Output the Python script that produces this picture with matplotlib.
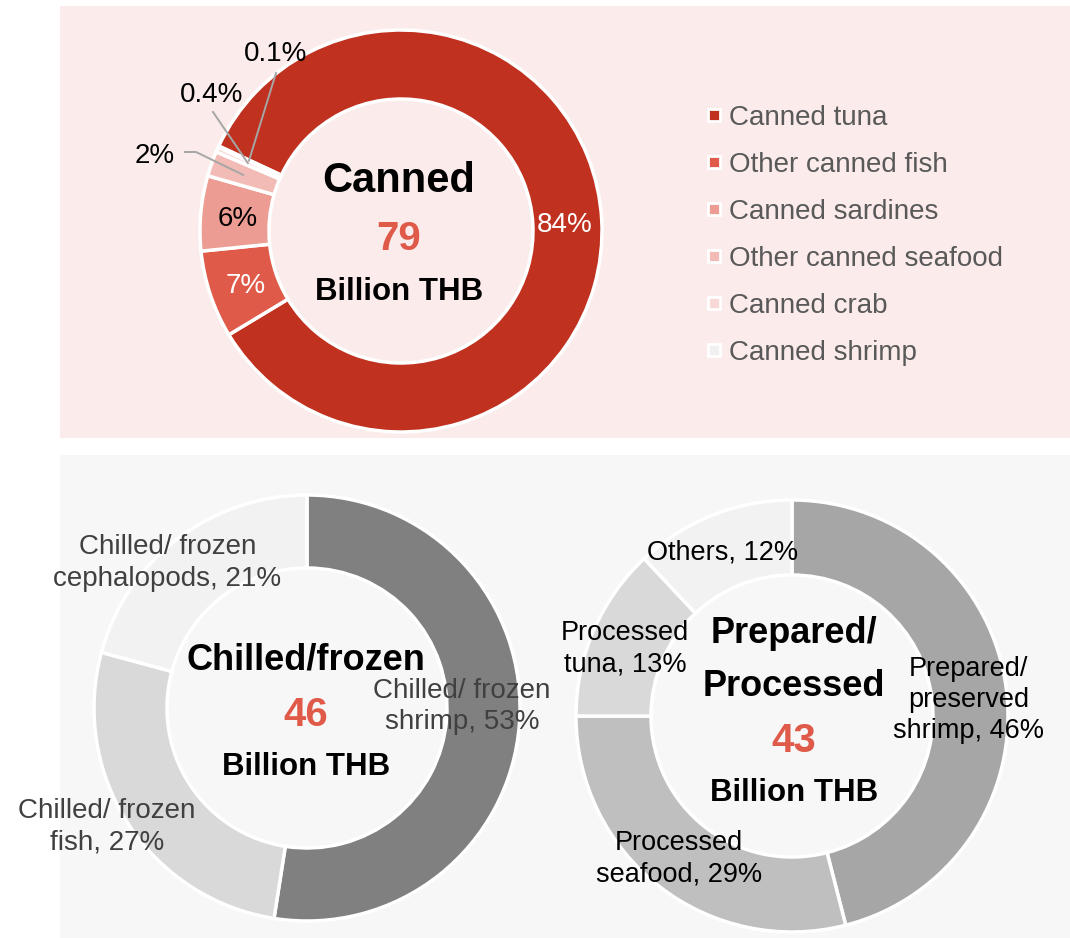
import numpy as np
import matplotlib
matplotlib.use("Agg")
import matplotlib.pyplot as plt
from matplotlib.patches import Rectangle

plt.rcParams["font.family"] = ["Liberation Sans", "DejaVu Sans"]

# ---- data ----
canned_labels = ["Canned tuna", "Other canned fish", "Canned sardines",
                 "Other canned seafood", "Canned crab", "Canned shrimp"]
canned_share = [84, 7, 6, 2, 0.4, 0.1]
canned_total = 79

chilled_labels = ["Chilled/ frozen\nshrimp", "Chilled/ frozen\nfish",
                  "Chilled/ frozen\ncephalopods"]
chilled_share = [53, 27, 21]
chilled_total = 46

prepared_labels = ["Prepared/\npreserved\nshrimp", "Processed\nseafood",
                   "Processed\ntuna", "Others"]
prepared_share = [46, 29, 13, 12]
prepared_total = 43

# ---- styling ----
W, H = 1070, 938
RED = "#E05A4A"
canned_colors = ["#C1311F", "#E05A4A", "#EC9C93", "#F3BBB5", "#F8D9D7", "#F0F0F0"]
chilled_colors = ["#808080", "#D9D9D9", "#F2F2F2"]
prepared_colors = ["#A6A6A6", "#BFBFBF", "#D9D9D9", "#F2F2F2"]
TXT_DY = 3  # visual centring of cap-height text


def Y(y):
    return H - y


def pct(v):
    return f"{v:g}%"


fig = plt.figure(figsize=(W / 100, H / 100), dpi=100)
ax = fig.add_axes([0, 0, 1, 1])
ax.axis("off")


def label(x, y, s, dy=TXT_DY, **kw):
    kw.setdefault("ha", "center")
    kw.setdefault("va", "center")
    kw.setdefault("zorder", 6)
    return ax.text(x, y - dy, s, **kw)


# panel backgrounds
ax.add_patch(Rectangle((60, Y(438)), 1010, 432, facecolor="#FBECEB",
                       edgecolor="none", zorder=0))
ax.add_patch(Rectangle((60, Y(938)), 1010, 483, facecolor="#F7F7F7",
                       edgecolor="none", zorder=0))


def donut(values, colors, cx, cy, r, width, start):
    wedges, _ = ax.pie(values, colors=colors, startangle=start,
                       counterclock=False, radius=r, center=(cx, Y(cy)),
                       wedgeprops=dict(width=width, edgecolor="white",
                                       linewidth=2.5))
    for w in wedges:
        w.set_zorder(2)
    return wedges


def polar(cx, cy, ang, rad):
    a = np.deg2rad(ang)
    return cx + rad * np.cos(a), Y(cy) + rad * np.sin(a)


def mid(w):
    return (w.theta1 + w.theta2) / 2


# ---- Canned donut ----
ccx, ccy, cR, cw = 401, 231, 201, 69
cw_list = donut(canned_share, canned_colors, ccx, ccy, cR, cw, 155)
rmid = cR - cw / 2
inside_colors = ["white", "white", "black"]
for i in range(3):
    x, y = polar(ccx, ccy, mid(cw_list[i]), rmid - 3)
    label(x, y, pct(canned_share[i]), fontsize=20, color=inside_colors[i])

# small slices with leader lines
lead_text = [(155, 153), (212, 92), (276, 51)]
lead_path = [[(185, 152), (196, 152)], [(213, 112)], [(276, 73)]]
for k, i in enumerate(range(3, 6)):
    ex, ey = polar(ccx, ccy, mid(cw_list[i]), rmid + 1)
    pts = [(px, Y(py)) for px, py in lead_path[k]] + [(ex, ey)]
    xs, ys = zip(*pts)
    ax.plot(xs, ys, color="#A6A6A6", lw=1.4, zorder=4)
    label(lead_text[k][0], Y(lead_text[k][1]), pct(canned_share[i]),
          fontsize=20, color="black")

label(399, Y(178), "Canned", fontsize=30, fontweight="bold", color="black")
label(399, Y(236), str(canned_total), fontsize=29, fontweight="bold", color=RED)
label(399, Y(289), "Billion THB", fontsize=22.5, fontweight="bold",
      color="black")

# legend
for i, (lab, col) in enumerate(zip(canned_labels, canned_colors)):
    ly = 115 + 47 * i
    ax.plot(714, Y(ly), marker="s", markersize=9, markerfacecolor=col,
            markeredgecolor="white", markeredgewidth=2, zorder=5)
    label(729, Y(ly), lab, ha="left", fontsize=20, color="#595959")

# ---- Chilled/frozen donut ----
lcx, lcy, lR, lw_ = 307, 708, 213, 73
lw_list = donut(chilled_share, chilled_colors, lcx, lcy, lR, lw_, 90)
l_rad = [155, 232, 202]
l_off = [5.4, -2.5, 6.3]
for i, w in enumerate(lw_list):
    x, y = polar(lcx, lcy, mid(w) + l_off[i], l_rad[i])
    label(x, y, f"{chilled_labels[i]}, {pct(chilled_share[i])}", dy=1,
          fontsize=20, color="#404040", linespacing=1.29, zorder=5)

label(306, Y(657), "Chilled/frozen", fontsize=26, fontweight="bold",
      color="black")
label(306, Y(712), str(chilled_total), fontsize=29, fontweight="bold",
      color=RED)
label(306, Y(764), "Billion THB", fontsize=22.5, fontweight="bold",
      color="black")

# ---- Prepared/Processed donut ----
rcx, rcy, rR, rw = 792, 716, 216, 75
rw_list = donut(prepared_share, prepared_colors, rcx, rcy, rR, rw, 90)
r_rad = [177, 182, 180, 178]
r_off = [-2.0, -0.5, 1.5, 1.5]
for i, w in enumerate(rw_list):
    x, y = polar(rcx, rcy, mid(w) + r_off[i], r_rad[i])
    label(x, y, f"{prepared_labels[i]}, {pct(prepared_share[i])}", dy=0,
          fontsize=19.5, color="black", linespacing=1.27, zorder=5)

label(794, Y(630), "Prepared/", fontsize=26, fontweight="bold", color="black")
label(794, Y(683), "Processed", fontsize=26, fontweight="bold", color="black")
label(794, Y(738), str(prepared_total), fontsize=29, fontweight="bold",
      color=RED)
label(794, Y(790), "Billion THB", fontsize=22.5, fontweight="bold",
      color="black")

ax.set_xlim(0, W)
ax.set_ylim(0, H)
ax.set_aspect("auto")

fig.savefig("out.png", dpi=100, facecolor="white")
